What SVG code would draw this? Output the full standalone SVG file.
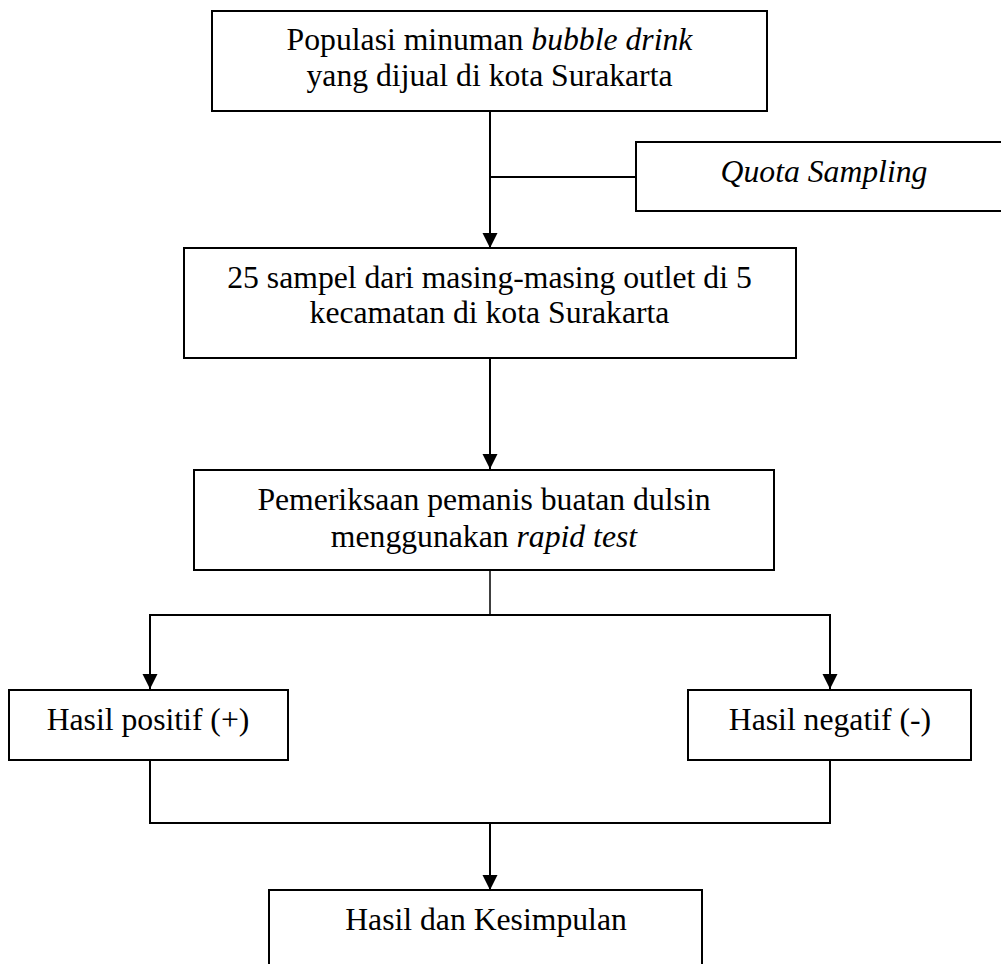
<svg xmlns="http://www.w3.org/2000/svg" width="1001" height="964" viewBox="0 0 1001 964">
<style>
  .box { fill: #ffffff; stroke: #000000; stroke-width: 2; }
  .lbl { font-family: "Liberation Serif", "Times New Roman", serif; font-size: 31.7px; fill: #000000; text-anchor: middle; }
  .it { font-style: italic; }
  .ln { fill: none; stroke: #000000; stroke-width: 2; }
</style>
<defs>
  <marker id="arr" markerUnits="userSpaceOnUse" markerWidth="16" markerHeight="16" viewBox="0 0 16 16" refX="15" refY="8" orient="auto">
    <path d="M0,0.5 L15,8 L0,15.5 Z" fill="#000000"/>
  </marker>
</defs>
<rect width="1001" height="964" fill="#ffffff"/>

<g id="connectors">
  <line class="ln" x1="490" y1="111" x2="490" y2="248" marker-end="url(#arr)"/>
  <line class="ln" x1="490" y1="177" x2="636" y2="177"/>
  <line class="ln" x1="490" y1="358" x2="490" y2="469" marker-end="url(#arr)"/>
  <line class="ln" x1="490" y1="570" x2="490" y2="615" style="stroke-width:1.5"/>
  <line class="ln" x1="149" y1="615" x2="831" y2="615"/>
  <line class="ln" x1="150" y1="615" x2="150" y2="689" marker-end="url(#arr)"/>
  <line class="ln" x1="830" y1="615" x2="830" y2="689" marker-end="url(#arr)"/>
  <polyline class="ln" points="150,760 150,823 830,823 830,760"/>
  <line class="ln" x1="490" y1="823" x2="490" y2="890" marker-end="url(#arr)"/>
</g>

<g id="node-populasi">
  <rect class="box" x="212" y="11" width="555" height="100"/>
  <text class="lbl" x="489.5" y="50">Populasi minuman <tspan class="it">bubble drink</tspan></text>
  <text class="lbl" x="489.5" y="86">yang dijual di kota Surakarta</text>
</g>

<g id="node-quota">
  <rect class="box" x="636" y="142" width="376" height="69"/>
  <text class="lbl it" x="824" y="182">Quota Sampling</text>
</g>

<g id="node-sampel">
  <rect class="box" x="184" y="248" width="612" height="110"/>
  <text class="lbl" x="489.5" y="288">25 sampel dari masing-masing outlet di 5</text>
  <text class="lbl" x="489.5" y="323">kecamatan di kota Surakarta</text>
</g>

<g id="node-pemeriksaan">
  <rect class="box" x="194" y="470" width="580" height="100"/>
  <text class="lbl" x="484" y="510">Pemeriksaan pemanis buatan dulsin</text>
  <text class="lbl" x="484" y="547">menggunakan <tspan class="it">rapid test</tspan></text>
</g>

<g id="node-positif">
  <rect class="box" x="9" y="690" width="279" height="70"/>
  <text class="lbl" x="148" y="730">Hasil positif (+)</text>
</g>

<g id="node-negatif">
  <rect class="box" x="688" y="690" width="283" height="70"/>
  <text class="lbl" x="830" y="730">Hasil negatif (-)</text>
</g>

<g id="node-kesimpulan">
  <rect class="box" x="269" y="890" width="433" height="90"/>
  <text class="lbl" x="486" y="930">Hasil dan Kesimpulan</text>
</g>
</svg>
